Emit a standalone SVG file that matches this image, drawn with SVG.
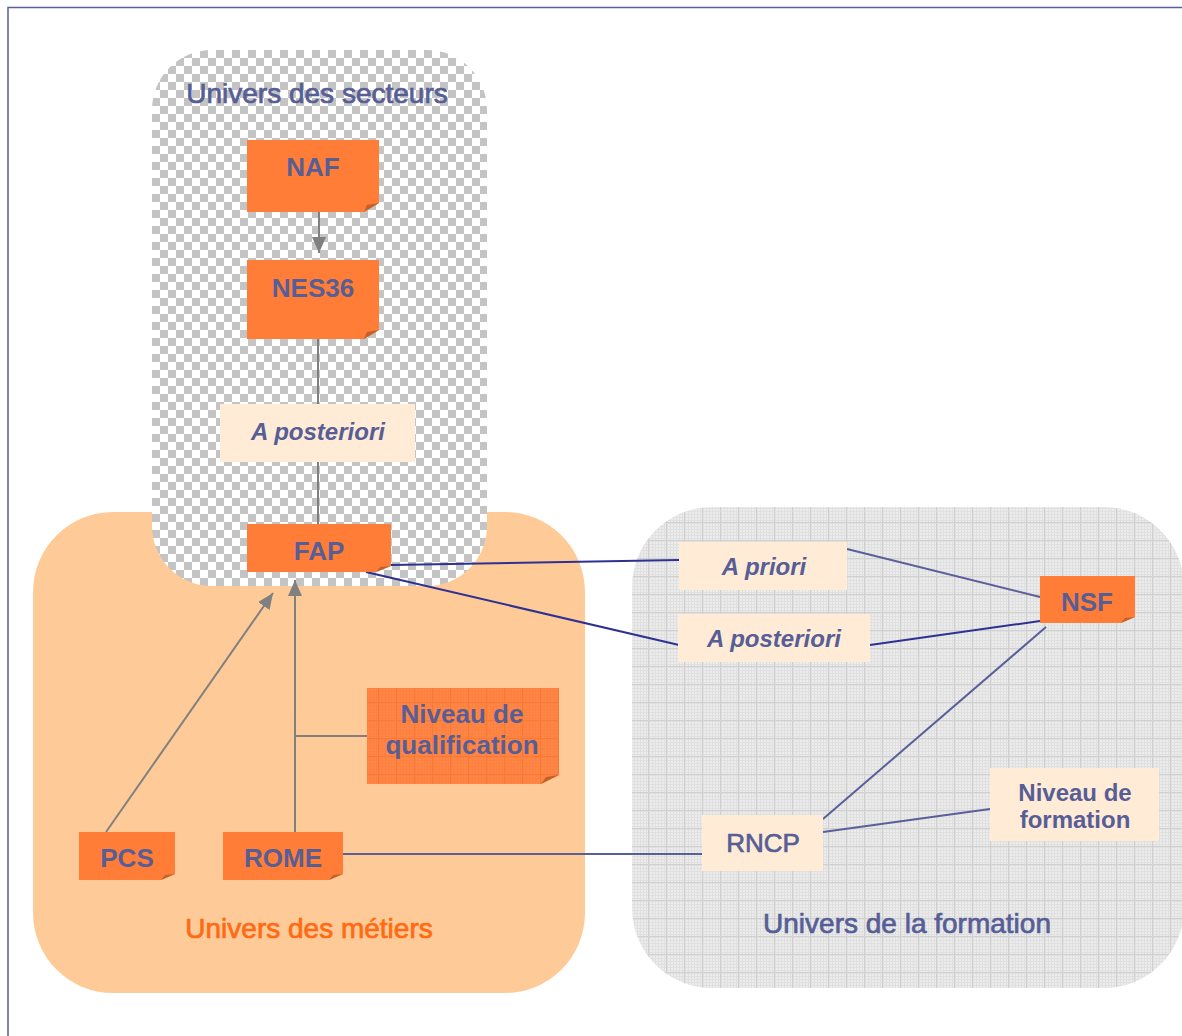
<svg xmlns="http://www.w3.org/2000/svg" width="1182" height="1036" viewBox="0 0 1182 1036">
<style>
.t{font-family:"Liberation Sans",Arial,sans-serif;fill:#575e96;text-anchor:middle}
.b{font-weight:bold;font-size:26px}
.i{font-weight:bold;font-style:italic;font-size:24px}
.u{font-size:28px;stroke:#575e96;stroke-width:0.7}
.node{fill:#ff7d37}
.fold{fill:#c4612a}
.pale{fill:#ffebd6}
.gray{stroke:#808080;stroke-width:2;fill:none}
.dk{stroke:#2e3192;stroke-width:2;fill:none}
.md{stroke:#5a5f9a;stroke-width:2;fill:none}
</style>
<defs>
<pattern id="checker" width="16" height="16" patternUnits="userSpaceOnUse" x="152" y="50">
<rect width="16" height="16" fill="#ffffff"/>
<rect width="8" height="8" fill="#c4c4c4"/>
<rect x="8" y="8" width="8" height="8" fill="#c4c4c4"/>
</pattern>
<pattern id="grid" width="18" height="18" patternUnits="userSpaceOnUse">
<rect width="18" height="18" fill="#ececec"/>
<path d="M1.5 0V18M4.5 0V18M7.5 0V18M10.5 0V18M13.5 0V18M16.5 0V18M0 1.5H18M0 4.5H18M0 7.5H18M0 10.5H18M0 13.5H18M0 16.5H18" stroke="#e0e0e0" stroke-width="1"/>
<path d="M0.5 0V18M0 0.5H18" stroke="#d0d0d0" stroke-width="1"/>
</pattern>
<pattern id="ogrid" width="18" height="18" patternUnits="userSpaceOnUse">
<rect width="18" height="18" fill="#ff8644"/>
<path d="M1.5 0V18M4.5 0V18M7.5 0V18M10.5 0V18M13.5 0V18M16.5 0V18M0 1.5H18M0 4.5H18M0 7.5H18M0 10.5H18M0 13.5H18M0 16.5H18" stroke="#fd8140" stroke-width="1"/>
<path d="M0.5 0V18M0 0.5H18" stroke="#f67a36" stroke-width="1"/>
</pattern>
<marker id="arr" markerUnits="userSpaceOnUse" markerWidth="18" markerHeight="16" refX="16" refY="7" orient="auto">
<path d="M0 0L16 7L0 14Z" fill="#808080"/>
</marker>
</defs>

<rect width="1182" height="1036" fill="#ffffff"/>
<path d="M8 1036V7.5H1182" fill="none" stroke="#5a5f9a" stroke-width="1.5"/>

<g id="univers-metiers">
<rect x="33" y="512" width="552" height="481" rx="80" ry="80" fill="#fecb98"/>
<text class="t u" x="309" y="938" style="fill:#ff6a13;stroke:#ff6a13">Univers des métiers</text>
</g>
<g id="univers-formation">
<rect x="632" y="507" width="552" height="481" rx="80" ry="80" fill="url(#grid)"/>
<text class="t u" x="907" y="933">Univers de la formation</text>
</g>
<g id="univers-secteurs">
<rect x="152" y="50" width="335" height="536" rx="60" ry="60" fill="url(#checker)"/>
<text class="t u" x="317" y="103">Univers des secteurs</text>
</g>

<g id="connectors">
<line class="gray" x1="319" y1="212" x2="319" y2="253" marker-end="url(#arr)"/>
<line class="gray" x1="318" y1="339" x2="318" y2="404"/>
<line class="gray" x1="318" y1="462" x2="318" y2="524"/>
<line class="dk" x1="391" y1="565" x2="679" y2="560"/>
<line class="dk" x1="366" y1="572" x2="679" y2="645"/>
<line class="md" x1="847" y1="549" x2="1040" y2="597"/>
<line class="dk" x1="870" y1="645" x2="1040" y2="621"/>
<line class="md" x1="1046" y1="627" x2="823" y2="819"/>
<line class="md" x1="823" y1="832" x2="990" y2="809"/>
<line class="md" x1="343" y1="854" x2="702" y2="854"/>
<line class="gray" x1="106" y1="832" x2="273" y2="593" marker-end="url(#arr)"/>
<line class="gray" x1="295" y1="832" x2="295" y2="580" marker-end="url(#arr)"/>
<line class="gray" x1="295" y1="736" x2="367" y2="736"/>
</g>

<g id="naf">
<path class="node" d="M247 140H379V203L364 212H247Z"/>
<path class="fold" d="M379 203L364 212L367 205Z"/>
<text class="t b" x="313" y="176">NAF</text>
</g>
<g id="nes36">
<path class="node" d="M247 260H379V330L364 339H247Z"/>
<path class="fold" d="M379 330L364 339L367 332Z"/>
<text class="t b" x="313" y="297">NES36</text>
</g>
<g id="a-posteriori-1">
<rect class="pale" x="220" y="404" width="195" height="58"/>
<text class="t i" x="318" y="440">A posteriori</text>
</g>
<g id="fap">
<path class="node" d="M247 524H391V566L376 572H247Z"/>
<path class="fold" d="M391 566L376 572L380 567Z"/>
<text class="t b" x="319" y="560">FAP</text>
</g>
<g id="a-priori">
<rect class="pale" x="679" y="542" width="168" height="48"/>
<text class="t i" x="764" y="575">A priori</text>
</g>
<g id="a-posteriori-2">
<rect class="pale" x="678" y="614" width="192" height="48"/>
<text class="t i" x="774" y="647">A posteriori</text>
</g>
<g id="nsf">
<path class="node" d="M1040 576H1135V617L1121 623H1040Z"/>
<path class="fold" d="M1135 617L1121 623L1125 618Z"/>
<text class="t b" x="1087" y="611">NSF</text>
</g>
<g id="rncp">
<rect class="pale" x="702" y="815" width="121" height="56"/>
<text class="t" x="763" y="852" style="font-size:26px;stroke:#575e96;stroke-width:0.7">RNCP</text>
</g>
<g id="niveau-formation">
<rect class="pale" x="990" y="768" width="169" height="73"/>
<text class="t" x="1075" y="801" style="font-weight:bold;font-size:24px">Niveau de</text>
<text class="t" x="1075" y="828" style="font-weight:bold;font-size:24px">formation</text>
</g>
<g id="niveau-qualification">
<path d="M367 688H559V775L541 784H367Z" fill="url(#ogrid)"/>
<path class="fold" d="M559 775L541 784L546 777Z"/>
<text class="t b" x="462" y="723">Niveau de</text>
<text class="t b" x="462" y="754">qualification</text>
</g>
<g id="pcs">
<path class="node" d="M79 832H175V874L161 880H79Z"/>
<path class="fold" d="M175 874L161 880L165 875Z"/>
<text class="t b" x="127" y="867">PCS</text>
</g>
<g id="rome">
<path class="node" d="M223 832H343V874L329 880H223Z"/>
<path class="fold" d="M343 874L329 880L333 875Z"/>
<text class="t b" x="283" y="867">ROME</text>
</g>
</svg>
